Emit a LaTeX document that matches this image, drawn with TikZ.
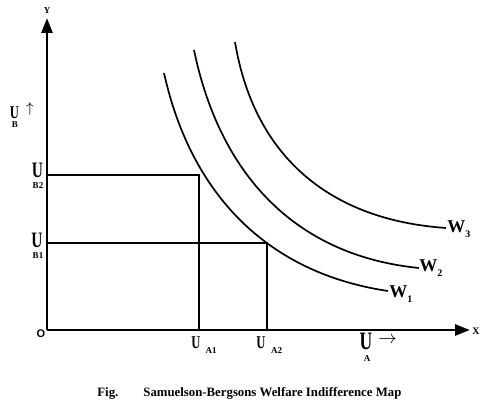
\documentclass[tikz,border=0pt]{standalone}
\usepackage{fontspec}
\setmainfont{Liberation Serif}
\setsansfont{Liberation Sans}
\newfontfamily\narrowserif[FakeStretch=0.7]{Liberation Serif}
\usetikzlibrary{arrows.meta}

\begin{document}
\begin{tikzpicture}[
    x=0.5pt, y=-0.5pt,
    axis/.style={line width=1.3pt, -{Triangle[length=7.5pt,width=5.5pt]}},
    guide/.style={line width=0.9pt},
    wcurve/.style={line width=0.85pt},
    ulab/.style={inner sep=0pt, font=\fontsize{9}{9}\selectfont\narrowserif\bfseries},
    bigulab/.style={ulab, font=\fontsize{11}{11}\selectfont\narrowserif\bfseries},
    sublab/.style={inner sep=0pt, font=\fontsize{4.5}{5}\selectfont\bfseries},
    wlab/.style={inner sep=0pt, anchor=base west, font=\fontsize{9}{9}\selectfont\bfseries},
    axlab/.style={inner sep=0pt, font=\fontsize{5}{5}\selectfont\bfseries},
    caption/.style={inner sep=0pt, anchor=base west, font=\fontsize{6.4}{7}\selectfont\bfseries},
  ]
    \useasboundingbox (0,0) rectangle (488,405);

    % ---- axes ----
    \coordinate (O) at (47,330);
    \coordinate (ytip) at (47,18);
    \coordinate (xtip) at (470,330);
    \draw[axis] (O) -- (ytip);
    \draw[axis] (O) -- (xtip);
    \node[axlab, font=\fontsize{5.5}{6}\selectfont\sffamily\bfseries] (olab) at (41,334) {O};
    \node[axlab, font=\fontsize{4.5}{5}\selectfont\bfseries] (ylab) at (47,11) {Y};
    \node[axlab] (xlab) at (476,331) {X};

    % ---- utility levels ----
    \coordinate (p1) at (199,175);
    \coordinate (p2) at (267,243);
    \draw[guide] (p1 -| O) -- (p1) -- (p1 |- O);
    \draw[guide] (p2 -| O) -- (p2) -- (p2 |- O);

    % ---- welfare indifference curves ----
    \coordinate (w1a) at (164,73);  \coordinate (w1b) at (388,291);
    \coordinate (w2a) at (194,50);  \coordinate (w2b) at (419,268);
    \coordinate (w3a) at (235,42);  \coordinate (w3b) at (446,228);
    \draw[wcurve] (w1a) .. controls (191.6,197) and (269.7,273.4) .. (w1b);
    \draw[wcurve] (w2a) .. controls (221,179.8) and (299.8,256.1) .. (w2b);
    \draw[wcurve] (w3a) .. controls (253.8,154.7) and (327.6,219.8) .. (w3b);
    \node[wlab] (w1) at (389,298) {W\raisebox{-2.5pt}{\fontsize{5}{5}\selectfont 1}};
    \node[wlab] (w2) at (419,272) {W\raisebox{-2.5pt}{\fontsize{5}{5}\selectfont 2}};
    \node[wlab] (w3) at (447,233) {W\raisebox{-2.5pt}{\fontsize{5}{5}\selectfont 3}};

    % ---- labels on the Y axis ----
    \node[ulab] (ub) at (14.5,112.5) {U};
    \node[sublab] (ubsub) at (15,125) {B};
    \node[inner sep=0pt, font=\fontsize{7}{7}\selectfont] (ubarrow) at (30,109) {$\uparrow$};
    \node[bigulab] (ub2) at (37.5,170) {U};
    \node[sublab] (ub2sub) at (38,185.5) {B2};
    \node[bigulab] (ub1) at (37,240.5) {U};
    \node[sublab] (ub1sub) at (38,255.5) {B1};

    % ---- labels on the X axis ----
    \node[ulab] (ua1) at (196,342.5) {U};
    \node[sublab] (ua1sub) at (211,351) {A1};
    \node[ulab] (ua2) at (261,342.5) {U};
    \node[sublab] (ua2sub) at (276.5,351) {A2};
    \node[bigulab, font=\fontsize{12.5}{12.5}\selectfont\narrowserif\bfseries] (ua) at (366,341.5) {U};
    \node[sublab] (uasub) at (367,359) {A};
    \node[inner sep=0pt, font=\fontsize{9.5}{9.5}\selectfont] (uaarrow) at (387.5,340) {$\rightarrow$};

    % ---- caption ----
    \node[caption] (fig) at (97,396.5) {Fig.};
    \node[caption] (title) at (143,396.5) {Samuelson-Bergsons Welfare Indifference Map};
\end{tikzpicture}
\end{document}
